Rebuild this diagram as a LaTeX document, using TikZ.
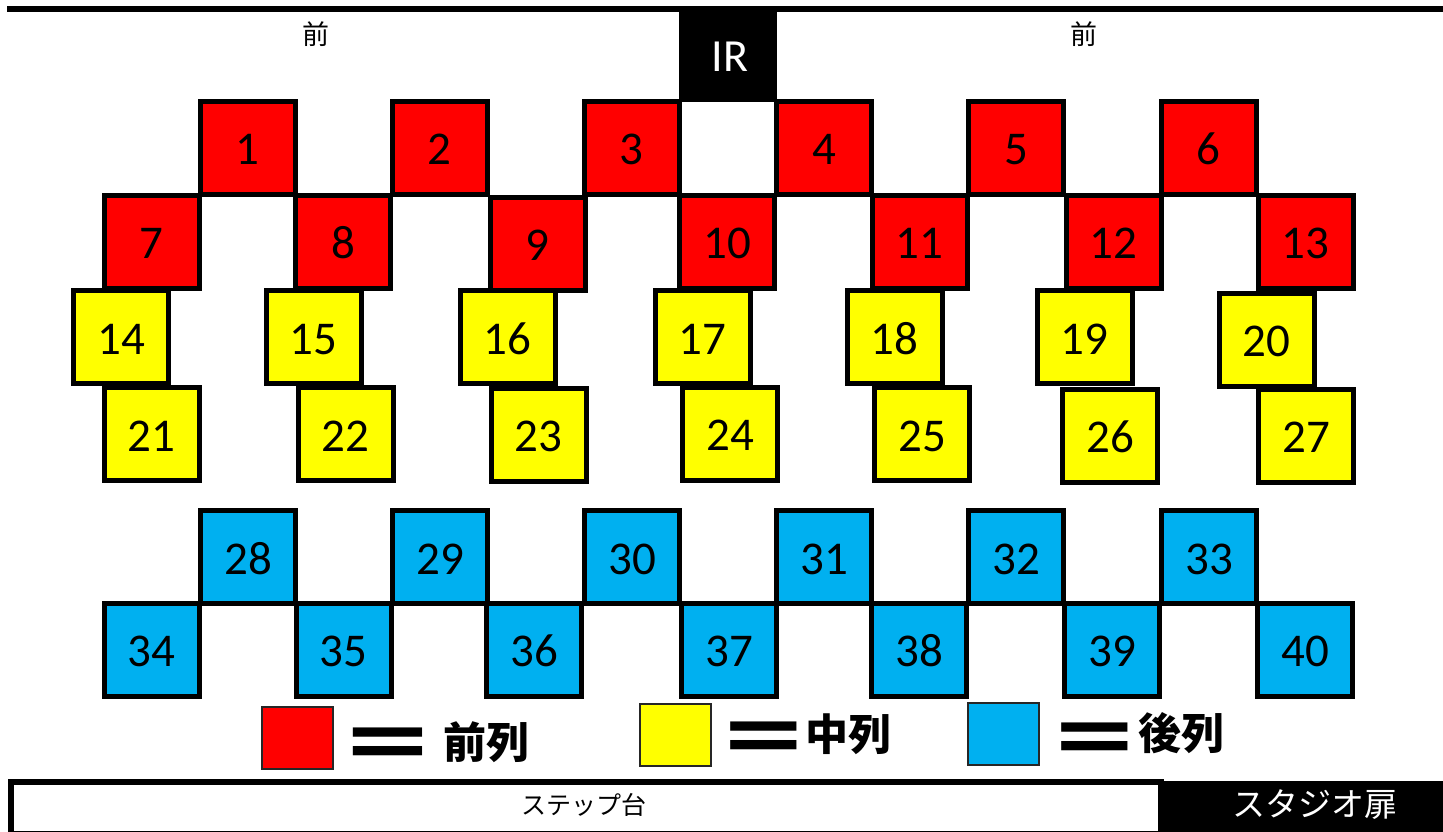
\documentclass[tikz,border=0pt]{standalone}
\usepackage{fontspec}
\usepackage{graphicx}
\newfontfamily\numfont{Carlito}
\newfontfamily\jp{Noto Sans CJK JP}
\definecolor{seatred}{RGB}{255,0,0}
\definecolor{seatyellow}{RGB}{255,255,0}
\definecolor{seatblue}{RGB}{0,176,240}
\begin{document}
\begin{tikzpicture}[x=1pt,y=-1pt,
  seat/.style={draw=black,line width=5pt,minimum width=95pt,minimum height=93pt,inner sep=0pt,text height=34pt,text depth=0pt,font=\numfont\fontsize{47}{47}\selectfont},
  front/.style={seat,fill=seatred},
  mid/.style={seat,fill=seatyellow},
  back/.style={seat,fill=seatblue},
  key/.style={draw=black!85,line width=2pt,inner sep=0pt,minimum width=71pt,minimum height=62pt},
  keytext/.style={font=\jp\bfseries\fontsize{43}{43}\selectfont,inner sep=0pt},
  keyeq/.style={font=\jp\bfseries\fontsize{43}{43}\selectfont,inner sep=0pt},
  fronttag/.style={font=\jp\fontsize{27}{27}\selectfont,inner sep=0pt}
]
\useasboundingbox (0,0) rectangle (1443,831);
\clip (0,0) rectangle (1443,831);
% top line and IR
\coordinate (tl) at (7,9);
\coordinate (tr) at (1460,9);
\draw[line width=6pt] (tl) -- (tr);
\node[fill=black,inner sep=0pt,minimum width=98pt,minimum height=96pt,anchor=north west] (irbox) at (679,6) {};
\node[text=white,font=\numfont\fontsize{46}{46}\selectfont,inner sep=0pt] (irtext) at (730,57) {IR};
\node[fronttag] (tagL) at (316,34) {前};
\node[fronttag] (tagR) at (1084,34) {前};
% row 1
\node[front] (s1) at (247.5,147.5) {1};
\node[front] (s2) at (439.5,147.5) {2};
\node[front] (s3) at (631.5,147.5) {3};
\node[front] (s4) at (824,147.5) {4};
\node[front] (s5) at (1016,147.5) {5};
\node[front] (s6) at (1208.5,147.5) {6};
% row 2
\node[front] (s7) at (151.5,241.5) {7};
\node[front] (s8) at (343,241.5) {8};
\node[front] (s9) at (537.5,243.5) {9};
\node[front] (s10) at (727,241.5) {10};
\node[front] (s11) at (919.5,241.5) {11};
\node[front] (s12) at (1113.5,241.5) {12};
\node[front] (s13) at (1305.5,241.5) {13};
% row 3
\node[mid] (s14) at (121,337) {14};
\node[mid] (s15) at (313.5,337) {15};
\node[mid] (s16) at (507.5,337) {16};
\node[mid] (s17) at (702.5,337) {17};
\node[mid] (s18) at (894.5,337) {18};
\node[mid] (s19) at (1084.5,337) {19};
\node[mid] (s20) at (1266.5,339.5) {20};
% row 4
\node[mid] (s21) at (151.5,434) {21};
\node[mid] (s22) at (345.5,434) {22};
\node[mid] (s23) at (538.5,434.5) {23};
\node[mid] (s24) at (730,433.5) {24};
\node[mid] (s25) at (922,434) {25};
\node[mid] (s26) at (1110,435.5) {26};
\node[mid] (s27) at (1306,435.5) {27};
% row 5
\node[back] (s28) at (248,557) {28};
\node[back] (s29) at (440,557) {29};
\node[back] (s30) at (632,557) {30};
\node[back] (s31) at (824,557) {31};
\node[back] (s32) at (1016,557) {32};
\node[back] (s33) at (1209,557) {33};
% row 6
\node[back] (s34) at (151.5,649.5) {34};
\node[back] (s35) at (343.5,649.5) {35};
\node[back] (s36) at (534,649.5) {36};
\node[back] (s37) at (729,649.5) {37};
\node[back] (s38) at (919,649.5) {38};
\node[back] (s39) at (1112,649.5) {39};
\node[back] (s40) at (1305,649.5) {40};
% legend
\node[key,fill=seatred] (kred) at (297.5,738) {};
\node[keyeq] (eqred) at (387.5,750) {\scalebox{2.3}[1.8]{＝}};
\node[keytext] (tred) at (486.5,742) {前列};
\node[key,fill=seatyellow] (kyel) at (675.5,734.5) {};
\node[keyeq] (eqyel) at (764,744) {\scalebox{2.2}[1.8]{＝}};
\node[keytext] (tyel) at (848,734) {中列};
\node[key,fill=seatblue] (kblue) at (1003,734) {};
\node[keyeq] (eqblue) at (1094.5,745) {\scalebox{2.2}[1.8]{＝}};
\node[keytext] (tblue) at (1181.5,733) {後列};
% bottom
\node[draw=black,line width=6pt,inner sep=0pt,minimum width=1150pt,minimum height=52pt,anchor=north west] (step) at (8,779) {};
\node[font=\jp\fontsize{25}{25}\selectfont,inner sep=0pt] (steptext) at (584,805) {ステップ台};
\node[fill=black,inner sep=0pt,minimum width=300pt,minimum height=60pt,anchor=north west] (door) at (1158,781) {};
\node[text=white,font=\jp\fontsize{33}{33}\selectfont,inner sep=0pt] (doortext) at (1315,805) {スタジオ扉};
\end{tikzpicture}
\end{document}
